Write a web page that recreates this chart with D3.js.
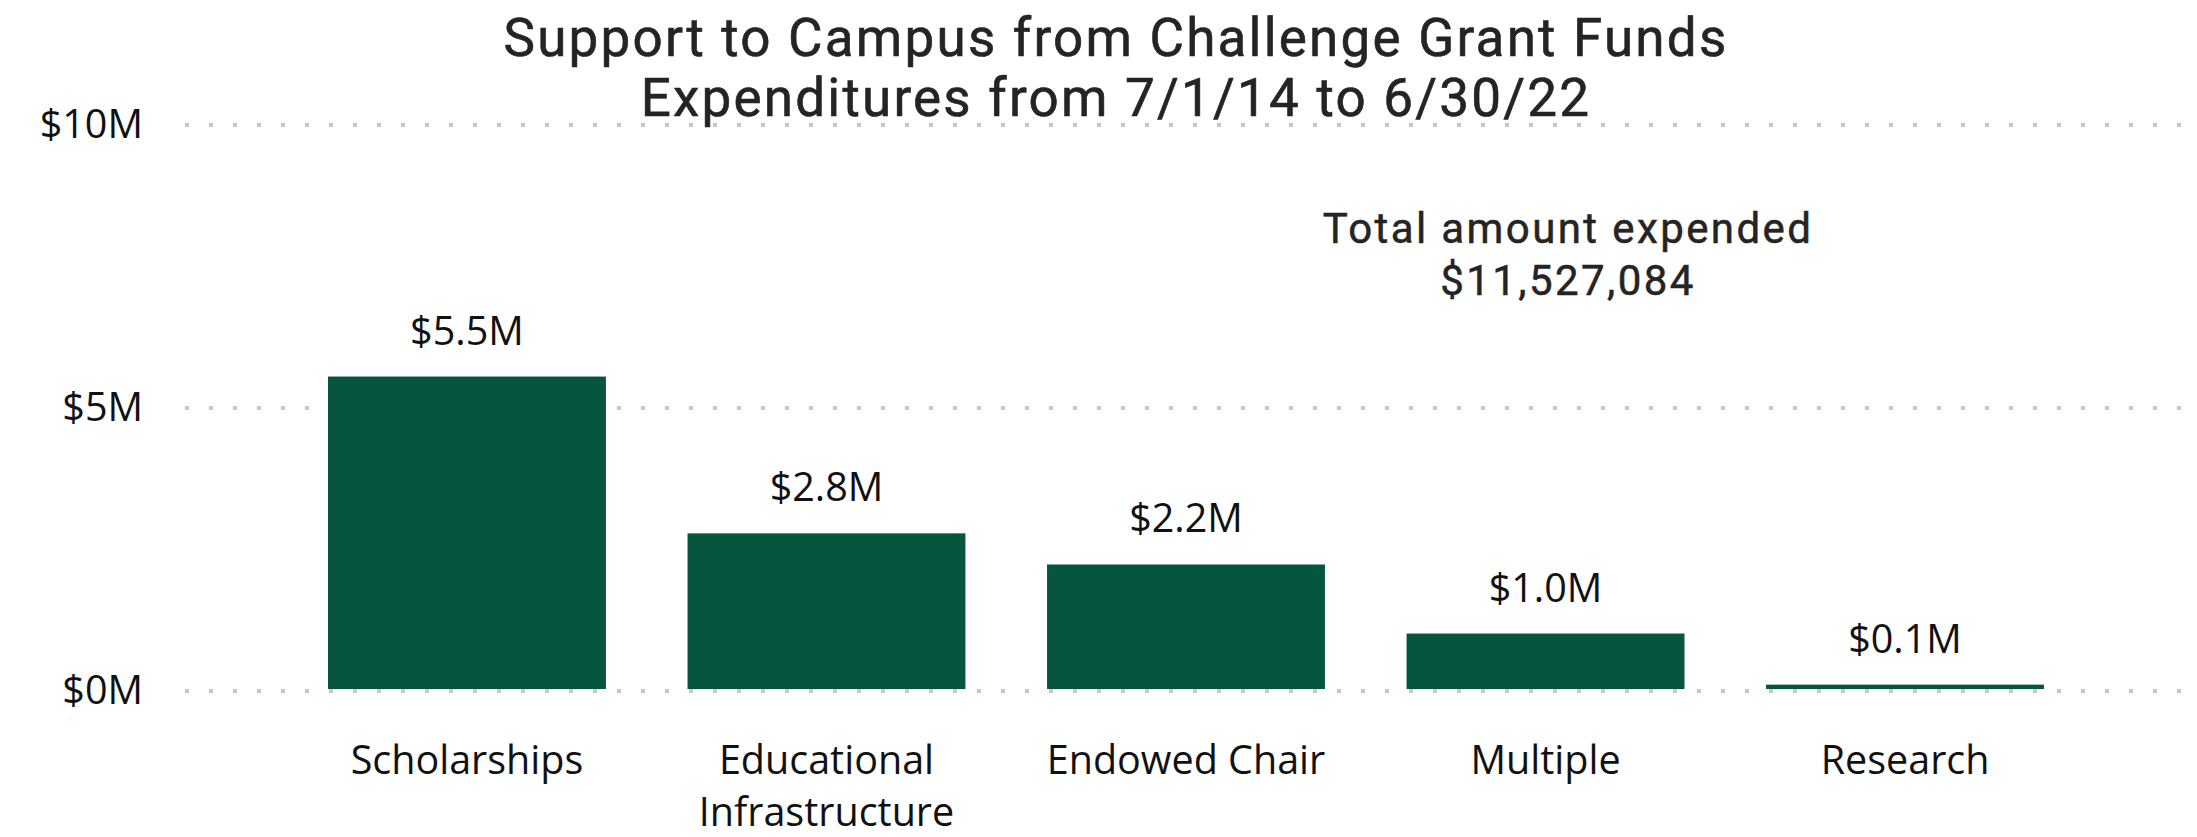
<!DOCTYPE html>
<html>
<head>
<meta charset="utf-8">
<script src="https://cdn.jsdelivr.net/npm/d3@7"></script>
<style>
  body { margin: 0; background: #fff; }
  svg { display: block; }
</style>
</head>
<body>
<div id="chart"></div>
<script>
// data
const categories = ["Scholarships", "Educational Infrastructure", "Endowed Chair", "Multiple", "Research"];
const amounts = [5520000, 2750000, 2200000, 980000, 77084];
const yTicks = [0, 5000000, 10000000];
const titleLines = ["Support to Campus from Challenge Grant Funds", "Expenditures from 7/1/14 to 6/30/22"];
const totalLines = ["Total amount expended", "$11,527,084"];

const width = 2197, height = 837;
const labelFont = "'Segoe UI', 'Open Sans', sans-serif";
const dinFont = "'DIN', Roboto, sans-serif";
const labelSize = 39.5;

const svg = d3.select("#chart")
  .append("svg")
  .attr("width", width)
  .attr("height", height);

const xScale = d3.scaleBand()
  .domain(categories)
  .range([328, 2044])
  .paddingInner(0.227)
  .paddingOuter(0);

const yScale = d3.scaleLinear()
  .domain([0, 10000000])
  .range([689, 123]);

// dotted gridlines
svg.append("g")
  .attr("id", "grid")
  .selectAll("line")
  .data(yTicks)
  .enter()
  .append("line")
  .attr("x1", 185)
  .attr("x2", 2192)
  .attr("y1", d => yScale(d) + 2)
  .attr("y2", d => yScale(d) + 2)
  .attr("stroke", "#c8c8c8")
  .attr("stroke-width", 4)
  .attr("stroke-dasharray", "4 20");

// y axis labels
const yAxis = svg.append("g")
  .attr("transform", "translate(143,2)")
  .call(d3.axisLeft(yScale).tickValues(yTicks).tickSize(0).tickPadding(0)
    .tickFormat(d => "$" + d / 1000000 + "M"));
yAxis.select(".domain").remove();
yAxis.selectAll(".tick text")
  .attr("font-family", labelFont)
  .attr("font-size", labelSize)
  .attr("fill", "#111");

// bars
svg.append("g")
  .attr("id", "bars")
  .selectAll("rect")
  .data(amounts)
  .enter()
  .append("rect")
  .attr("x", (d, i) => xScale(categories[i]))
  .attr("width", xScale.bandwidth())
  .attr("y", d => yScale(d))
  .attr("height", d => yScale(0) - yScale(d))
  .attr("fill", "#05553f");

// value labels
svg.append("g")
  .attr("id", "values")
  .selectAll("text")
  .data(amounts)
  .enter()
  .append("text")
  .attr("x", (d, i) => xScale(categories[i]) + xScale.bandwidth() / 2)
  .attr("y", d => yScale(d) - 32)
  .attr("text-anchor", "middle")
  .attr("font-family", labelFont)
  .attr("font-size", labelSize)
  .attr("fill", "#111")
  .text(d => "$" + (d / 1000000).toFixed(1) + "M");

// category labels, wrapped to the step width
const catLabels = svg.append("g")
  .attr("id", "categories")
  .selectAll("text")
  .data(categories)
  .enter()
  .append("text")
  .attr("text-anchor", "middle")
  .attr("font-family", labelFont)
  .attr("font-size", labelSize)
  .attr("fill", "#111");

catLabels.each(function (d) {
  const text = d3.select(this);
  const cx = xScale(d) + xScale.bandwidth() / 2;
  const words = d.split(" ");
  let lines = [], line = [];
  const probe = text.append("tspan");
  words.forEach(w => {
    const test = line.concat(w).join(" ");
    probe.text(test);
    if (line.length && probe.node().getComputedTextLength() > xScale.step() - 20) {
      lines.push(line.join(" "));
      line = [w];
    } else {
      line.push(w);
    }
  });
  lines.push(line.join(" "));
  probe.remove();
  lines.forEach((l, i) => {
    text.append("tspan").attr("x", cx).attr("y", 774 + i * 52).text(l);
  });
});

// title
svg.append("g")
  .attr("id", "title")
  .selectAll("text")
  .data(titleLines)
  .enter()
  .append("text")
  .attr("x", 1116)
  .attr("y", (d, i) => 56 + i * 60)
  .attr("text-anchor", "middle")
  .attr("font-family", dinFont)
  .attr("font-size", 53)
  .attr("letter-spacing", 2.2)
  .attr("fill", "#252423")
  .attr("stroke", "#252423")
  .attr("stroke-width", 0.6)
  .text(d => d);

// total card
svg.append("g")
  .attr("id", "total")
  .selectAll("text")
  .data(totalLines)
  .enter()
  .append("text")
  .attr("x", 1568)
  .attr("y", (d, i) => 243 + i * 52)
  .attr("text-anchor", "middle")
  .attr("font-family", dinFont)
  .attr("font-size", 42)
  .attr("letter-spacing", 2.4)
  .attr("fill", "#252423")
  .attr("stroke", "#252423")
  .attr("stroke-width", 0.5)
  .text(d => d);
</script>
</body>
</html>
